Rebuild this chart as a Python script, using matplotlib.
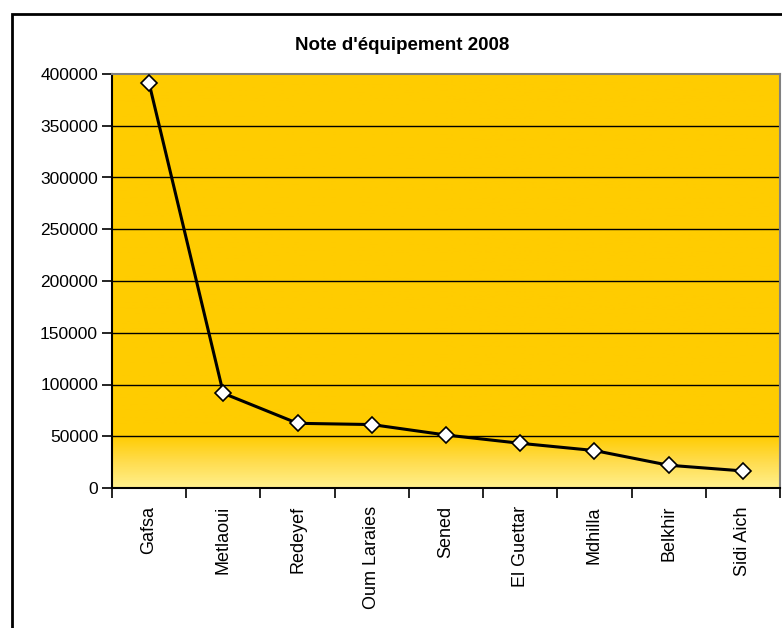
import numpy as np
import matplotlib.pyplot as plt
from matplotlib.patches import Rectangle
from matplotlib.colors import LinearSegmentedColormap

plt.rcParams['font.family'] = ['Liberation Sans', 'DejaVu Sans']

villes = ['Gafsa', 'Metlaoui', 'Redeyef', 'Oum Laraies', 'Sened',
          'El Guettar', 'Mdhilla', 'Belkhir', 'Sidi Aich']
notes = [391000, 91500, 62500, 61300, 51200, 43200, 36200, 22000, 16500]
yticks = [0, 50000, 100000, 150000, 200000, 250000, 300000, 350000, 400000]

fig = plt.figure(figsize=(7.82, 6.28), dpi=100)
ax = fig.add_axes([112 / 782, 1 - 488 / 628, 668 / 782, 414 / 628])

# fond en degrade (jaune vif en haut, jaune pale en bas)
cmap = LinearSegmentedColormap.from_list(
    'fond', [(0, '#FFF08C'), (0.06, '#FFDD50'), (0.125, '#FFCC00'), (1, '#FFCC00')])
grad = np.linspace(0, 1, 256).reshape(-1, 1)
ax.imshow(grad, aspect='auto', cmap=cmap, origin='lower',
          extent=[0, 1, 0, 1], transform=ax.transAxes, zorder=0)

x = np.arange(len(villes))
ax.plot(x, notes, color='black', lw=2.2, marker='D', ms=8,
        mfc='white', mec='black', mew=1.2, zorder=3, clip_on=False)

ax.set_xlim(-0.5, len(villes) - 0.5)
ax.set_ylim(0, 400000)
ax.set_yticks(yticks)
ax.set_yticklabels([str(v) for v in yticks], fontsize=12.5)
for v in yticks[1:-1]:
    ax.axhline(v, color='black', lw=1.0, zorder=1)

ax.set_xticks(np.arange(len(villes) + 1) - 0.5)
ax.set_xticklabels([])
ax.set_xticks(x, minor=True)
ax.set_xticklabels(villes, minor=True, rotation=90, fontsize=13, va='top')
ax.tick_params(axis='x', which='minor', length=0, pad=13)
ax.tick_params(axis='x', which='major', length=7, width=1.2, direction='out')
ax.tick_params(axis='y', length=7, width=1.2, direction='out', pad=3)

ax.spines['left'].set_color('black')
ax.spines['bottom'].set_color('black')
ax.spines['left'].set_linewidth(1.5)
ax.spines['bottom'].set_linewidth(1.5)
ax.spines['top'].set_color('#808080')
ax.spines['right'].set_color('#808080')
ax.spines['top'].set_linewidth(1.5)
ax.spines['right'].set_linewidth(1.5)

fig.text(402 / 782, 1 - 45 / 628, "Note d'équipement 2008",
         ha='center', va='center', fontsize=13.5, fontweight='bold')

fig.patches.append(Rectangle((12 / 782, -0.02), 1.05, 1 - 14 / 628 + 0.02,
                             transform=fig.transFigure, fill=False,
                             edgecolor='black', lw=2))

fig.savefig('out.png', dpi=100)
